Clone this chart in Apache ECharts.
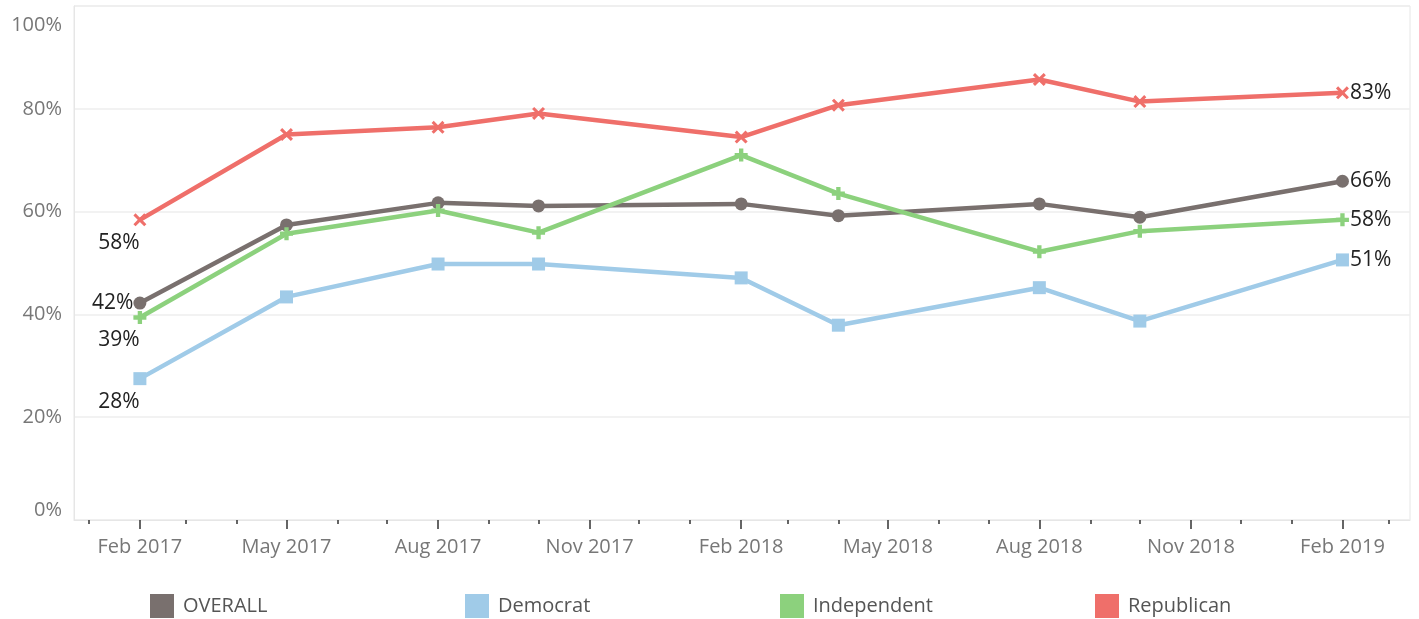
<!DOCTYPE html>
<html>
<head>
<meta charset="utf-8">
<script src="https://cdn.jsdelivr.net/npm/echarts@6/dist/echarts.min.js"></script>
<style>
html,body{margin:0;padding:0;background:#fff;}
#chart{width:1419px;height:619px;}
</style>
</head>
<body>
<div id="chart"></div>
<script>
// ---- data ----
const surveyDates = ['2017-02-01','2017-05-01','2017-08-01','2017-10-01','2018-02-01','2018-04-01','2018-08-01','2018-10-01','2019-02-01'];
const overall     = [42.2, 57.4, 61.7, 61.1, 61.5, 59.2, 61.5, 58.9, 65.9];
const democrat    = [27.5, 43.4, 49.8, 49.8, 47.1, 37.9, 45.2, 38.7, 50.6];
const independent = [39.4, 55.7, 60.2, 55.9, 71.0, 63.5, 52.2, 56.2, 58.4];
const republican  = [58.4, 75.0, 76.4, 79.1, 74.5, 80.7, 85.7, 81.4, 83.1];
const seriesNames = ['OVERALL', 'Democrat', 'Independent', 'Republican'];
const majorTickDates = ['2017-02-01','2017-05-01','2017-08-01','2017-11-01','2018-02-01','2018-05-01','2018-08-01','2018-11-01','2019-02-01'];
const minorTickDates = ['2017-01-01','2017-02-01','2017-03-01','2017-04-01','2017-05-01','2017-06-01','2017-07-01','2017-08-01','2017-09-01','2017-10-01','2017-11-01','2017-12-01','2018-01-01','2018-02-01','2018-03-01','2018-04-01','2018-05-01','2018-06-01','2018-07-01','2018-08-01','2018-09-01','2018-10-01','2018-11-01','2018-12-01','2019-01-01','2019-02-01','2019-03-01'];
const axisStart = '2016-12-23';
const axisEnd = '2019-03-14';
const yTicks = [0, 20, 40, 60, 80, 100];

function ts(s){ const p = s.split('-').map(Number); return Date.UTC(p[0], p[1]-1, p[2]); }
const monthNames = ['Jan','Feb','Mar','Apr','May','Jun','Jul','Aug','Sep','Oct','Nov','Dec'];

const FONT = '"Open Sans", sans-serif';
const colors = ['#79706e', '#a0cbe8', '#8cd17d', '#ef6f6a'];
const plusPath = 'path://M4,0H8V4H12V8H8V12H4V8H0V4H4Z';
const crossPath = 'path://M2,0L6,4L10,0L12,2L8,6L12,10L10,12L6,8L2,12L0,10L4,6L0,2Z';
const symbols = ['circle', 'rect', plusPath, crossPath];
const symbolSizes = [13, 13, 13, 13];
const values = [overall, democrat, independent, republican];

const chart = echarts.init(document.getElementById('chart'), null, {renderer: 'canvas'});

const labelBase = {show: true, fontFamily: FONT, fontSize: 21, color: '#222', formatter: p => Math.round(p.value[1]) + '%'};
function firstLabel(si){
  if (si === 0) return Object.assign({}, labelBase, {position: 'left', distance: 0});
  return Object.assign({}, labelBase, {position: 'inside', offset: [-21, 23]});
}
const series = seriesNames.map((name, si) => ({
  name: name,
  type: 'line',
  xAxisIndex: 0,
  symbol: symbols[si],
  symbolSize: symbolSizes[si],
  showSymbol: true,
  itemStyle: {color: colors[si]},
  lineStyle: {color: colors[si], width: 4.5},
  emphasis: {disabled: true},
  z: 2 + si,
  data: surveyDates.map((d, i) => {
    const item = {value: [ts(d), values[si][i]]};
    if (i === 0) item.label = firstLabel(si);
    else if (i === surveyDates.length - 1) item.label = Object.assign({}, labelBase, {position: 'right', distance: 1});
    return item;
  })
}));

const legendX = [150, 465, 780, 1095];
const legends = seriesNames.map((name, si) => ({
  data: [{name: name, icon: 'rect'}],
  left: legendX[si],
  top: 594,
  padding: 0,
  itemWidth: 24,
  itemHeight: 24,
  selectedMode: false,
  textStyle: {fontFamily: FONT, fontSize: 20, color: '#555', padding: [0, 0, 0, 4]}
}));

chart.setOption({
  animation: false,
  backgroundColor: '#fff',
  grid: {left: 74, right: 9, top: 6, bottom: 99, show: true, borderColor: '#e6e6e6', borderWidth: 1, containLabel: false},
  legend: legends,
  xAxis: [{
    type: 'value',
    min: ts(axisStart),
    max: ts(axisEnd),
    axisLine: {show: true, lineStyle: {color: '#e6e6e6', width: 1}},
    splitLine: {show: false},
    axisTick: {show: true, length: 9, lineStyle: {color: '#333', width: 1.5}, customValues: majorTickDates.map(ts)},
    axisLabel: {
      show: true, customValues: majorTickDates.map(ts), margin: 17,
      fontFamily: FONT, fontSize: 20, color: '#777',
      formatter: v => { const d = new Date(v); return monthNames[d.getUTCMonth()] + ' ' + d.getUTCFullYear(); }
    }
  }, {
    type: 'value',
    position: 'bottom',
    min: ts(axisStart),
    max: ts(axisEnd),
    axisLine: {show: false},
    splitLine: {show: false},
    axisTick: {show: true, length: 4, lineStyle: {color: '#333', width: 1.5}, customValues: minorTickDates.map(ts)},
    axisLabel: {show: false, customValues: minorTickDates.map(ts)}
  }],
  yAxis: {
    type: 'value',
    min: yTicks[0],
    max: yTicks[yTicks.length - 1],
    interval: 20,
    axisLine: {show: true, lineStyle: {color: '#e6e6e6'}},
    axisTick: {show: false},
    splitLine: {show: true, lineStyle: {color: '#eeeeee', width: 1.5}},
    axisLabel: {
      margin: 12, fontFamily: FONT, fontSize: 20, color: '#777',
      formatter: v => v === 100 ? '{top|100%}' : v + '%',
      rich: {top: {fontFamily: FONT, fontSize: 20, color: '#777', padding: [9, 0, 0, 0]}},
      verticalAlignMinLabel: 'bottom',
      verticalAlignMaxLabel: 'top'
    }
  },
  series: series
});
</script>
</body>
</html>
